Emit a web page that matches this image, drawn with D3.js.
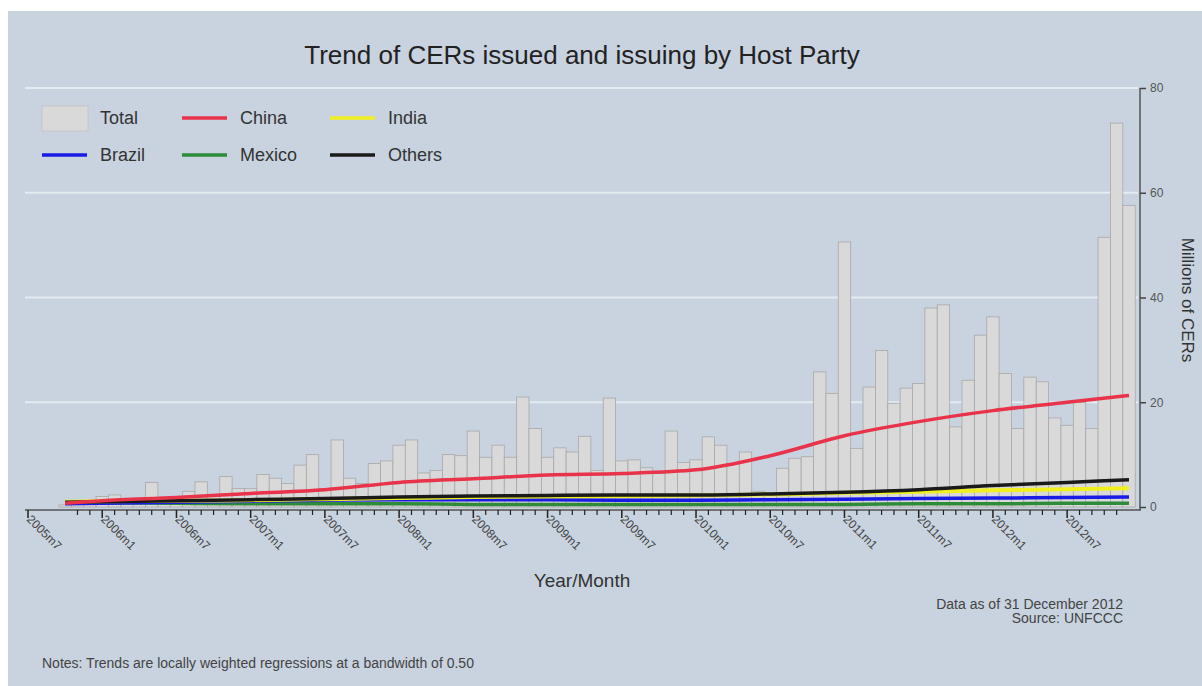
<!DOCTYPE html>
<head>
  <meta charset="utf-8">
  <script src="https://d3js.org/d3.v7.min.js"></script>
  <style>
    body { margin: 0; background: #fff; }
    svg { display: block; font-family: "Liberation Sans", Arial, sans-serif; }
  </style>
</head>

<body>
  <svg width="1202" height="686"></svg>

  <script>
    // months counted from 2005m7 (index 0)
    const startMonth = 3; // 2005m10
    const totals = [
      0.4, 1.0, 0.8,                                               // 2005 m10-m12
      2.0, 2.3, 0.8, 1.0, 4.7, 1.5, 2.0, 3.0, 4.8, 2.0, 5.8, 3.5,  // 2006
      3.5, 6.2, 5.5, 4.5, 8.0, 10.0, 3.5, 12.8, 5.5, 4.5, 8.3, 8.8, // 2007
      11.8, 12.8, 6.5, 7.0, 10.0, 9.8, 14.5, 9.5, 11.8, 9.5, 21.0, 15.0, // 2008
      9.5, 11.3, 10.5, 13.5, 7.0, 20.8, 8.8, 9.0, 7.5, 6.5, 14.5, 8.5,   // 2009
      9.0, 13.4, 11.8, 8.3, 10.5, 3.0, 2.5, 7.4, 9.3, 9.6, 25.8, 21.7,   // 2010
      50.6, 11.2, 22.9, 29.9, 19.8, 22.7, 23.6, 38.0, 38.6, 15.3, 24.2, 32.8, // 2011
      36.3, 25.5, 15.0, 24.8, 23.9, 17.0, 15.6, 20.0, 15.0, 51.5, 73.3, 57.6  // 2012
    ];

    // trend readings (month index from 2005m7)
    const trendMonths = [3, 6, 12, 18, 24, 30, 36, 42, 48, 54, 60, 66, 72, 78, 84, 89];
    const china  = [0.7, 1.2, 1.8, 2.6, 3.3, 4.7, 5.4, 6.1, 6.4, 7.1, 9.8, 13.6, 16.3, 18.4, 20.0, 21.3];
    const india  = [1.0, 1.1, 1.2, 1.3, 1.5, 1.7, 1.9, 2.0, 2.1, 2.2, 2.4, 2.7, 2.9, 3.2, 3.4, 3.6];
    const brazil = [0.6, 0.7, 0.9, 1.1, 1.3, 1.4, 1.4, 1.4, 1.3, 1.3, 1.4, 1.5, 1.6, 1.7, 1.8, 1.9];
    const mexico = [0.9, 0.8, 0.7, 0.6, 0.6, 0.6, 0.5, 0.5, 0.5, 0.5, 0.5, 0.5, 0.6, 0.6, 0.7, 0.7];
    const others = [0.9, 1.0, 1.2, 1.4, 1.6, 1.9, 2.1, 2.2, 2.3, 2.3, 2.5, 2.8, 3.3, 4.1, 4.7, 5.2];

    const seriesNames = ['China', 'India', 'Brazil', 'Mexico', 'Others'];
    const seriesColors = ['#e8334a', '#f0f020', '#1a1ae6', '#2e8b3a', '#1a1a1a'];
    const yTicks = [0, 20, 40, 60, 80];

    const svg = d3.select('svg');

    svg.append('rect')
      .attr('x', 8).attr('y', 11)
      .attr('width', 1194).attr('height', 675)
      .attr('fill', '#c8d3df');

    const x = d3.scaleLinear().domain([0, 89]).range([28, 1129]);
    const y = d3.scaleLinear().domain([0, 80]).range([507, 88]);
    const bw = x(1) - x(0);

    /*****************************************************
    ** grid
    ******************************************************/
    svg.append('g').selectAll('line')
      .data(yTicks.filter(d => d > 0)).enter().append('line')
      .attr('x1', 25).attr('x2', 1138)
      .attr('y1', d => y(d)).attr('y2', d => y(d))
      .attr('stroke', '#e4ebf1').attr('stroke-width', 2);

    /*****************************************************
    ** bars
    ******************************************************/
    const bars = totals.map((v, i) => ({ m: startMonth + i, v: v }));
    svg.append('g').selectAll('rect')
      .data(bars).enter().append('rect')
      .attr('x', d => x(d.m) - bw / 2)
      .attr('width', bw)
      .attr('y', d => y(d.v))
      .attr('height', d => y(0) - y(d.v))
      .attr('fill', '#d9d9d9')
      .attr('stroke', '#a8a8a8')
      .attr('stroke-width', 0.8);

    /*****************************************************
    ** trend lines
    ******************************************************/
    const line = d3.line()
      .x(d => x(d[0])).y(d => y(d[1]))
      .curve(d3.curveMonotoneX);

    const drawOrder = [
      { name: 'Mexico', vals: mexico },
      { name: 'Brazil', vals: brazil },
      { name: 'India', vals: india },
      { name: 'Others', vals: others },
      { name: 'China', vals: china }
    ];
    drawOrder.forEach(s => {
      const color = seriesColors[seriesNames.indexOf(s.name)];
      svg.append('path')
        .attr('d', line(trendMonths.map((m, i) => [m, s.vals[i]])))
        .attr('fill', 'none')
        .attr('stroke', color)
        .attr('stroke-width', s.name === 'India' ? 4 : 3.5);
    });

    /*****************************************************
    ** axes
    ******************************************************/
    const majors = d3.range(0, 90, 6);
    const minors = d3.range(4, 89).filter(m => m % 6 !== 0);
    const label = m => {
      const yr = 2005 + Math.floor((m + 6) / 12);
      const mo = (m + 6) % 12 + 1;
      return yr + 'm' + mo;
    };

    svg.append('line')
      .attr('x1', 25).attr('x2', 1141)
      .attr('y1', 510).attr('y2', 510)
      .attr('stroke', '#555').attr('stroke-width', 1.5);

    svg.append('g').selectAll('line')
      .data(minors).enter().append('line')
      .attr('x1', d => x(d)).attr('x2', d => x(d))
      .attr('y1', 510).attr('y2', 515)
      .attr('stroke', '#222').attr('stroke-width', 1.2);

    const majorG = svg.append('g').selectAll('g')
      .data(majors).enter().append('g')
      .attr('transform', d => `translate(${x(d)},510)`);
    majorG.append('line')
      .attr('y2', 8).attr('stroke', '#222').attr('stroke-width', 1.5);
    majorG.append('text')
      .attr('transform', 'translate(-2,10) rotate(45)')
      .attr('font-size', 12)
      .attr('fill', '#444')
      .text(d => label(d));

    const yAxis = d3.axisRight(y).tickValues(yTicks).tickSize(6).tickPadding(4);
    const yg = svg.append('g')
      .attr('transform', 'translate(1140,0)')
      .call(yAxis);
    yg.select('.domain').attr('stroke', '#555').attr('stroke-width', 1.5)
      .attr('d', 'M0,' + y(80) + 'V510');
    yg.selectAll('.tick line').attr('stroke', '#444').attr('stroke-width', 1.5);
    yg.selectAll('.tick text').attr('font-size', 12).attr('fill', '#555')
      .attr('font-family', '"Liberation Sans", Arial, sans-serif');

    svg.append('text')
      .attr('transform', 'translate(1182,300) rotate(90)')
      .attr('text-anchor', 'middle')
      .attr('font-size', 17).attr('fill', '#333')
      .text('Millions of CERs');

    svg.append('text')
      .attr('x', 582).attr('y', 587)
      .attr('text-anchor', 'middle')
      .attr('font-size', 19).attr('fill', '#333')
      .text('Year/Month');

    svg.append('text')
      .attr('x', 582).attr('y', 64)
      .attr('text-anchor', 'middle')
      .attr('font-size', 26).attr('fill', '#222')
      .text('Trend of CERs issued and issuing by Host Party');

    /*****************************************************
    ** legend
    ******************************************************/
    const legendItems = [
      { name: 'Total', col: 0, row: 0 },
      { name: 'China', col: 1, row: 0 },
      { name: 'India', col: 2, row: 0 },
      { name: 'Brazil', col: 0, row: 1 },
      { name: 'Mexico', col: 1, row: 1 },
      { name: 'Others', col: 2, row: 1 }
    ];
    const colX = [42, 182, 330];
    const rowY = [118, 155];
    const lg = svg.append('g').selectAll('g')
      .data(legendItems).enter().append('g')
      .attr('transform', d => `translate(${colX[d.col]},${rowY[d.row]})`);
    lg.each(function(d) {
      const g = d3.select(this);
      if (d.name === 'Total') {
        g.append('rect').attr('x', 0).attr('y', -12).attr('width', 46).attr('height', 25)
          .attr('fill', '#d9d9d9').attr('stroke', '#c6c6c6');
      } else {
        g.append('line').attr('x1', 0).attr('x2', 45).attr('y1', 0).attr('y2', 0)
          .attr('stroke', seriesColors[seriesNames.indexOf(d.name)]).attr('stroke-width', 3.5);
      }
      g.append('text').attr('x', 58).attr('y', 6)
        .attr('font-size', 18).attr('fill', '#333').text(d.name);
    });

    /*****************************************************
    ** notes
    ******************************************************/
    svg.append('text').attr('x', 1123).attr('y', 609)
      .attr('text-anchor', 'end').attr('font-size', 14).attr('fill', '#444')
      .text('Data as of 31 December 2012');
    svg.append('text').attr('x', 1123).attr('y', 623)
      .attr('text-anchor', 'end').attr('font-size', 14).attr('fill', '#444')
      .text('Source: UNFCCC');
    svg.append('text').attr('x', 42).attr('y', 668)
      .attr('font-size', 14).attr('fill', '#444')
      .text('Notes: Trends are locally weighted regressions at a bandwidth of 0.50');
  </script>
</body>
